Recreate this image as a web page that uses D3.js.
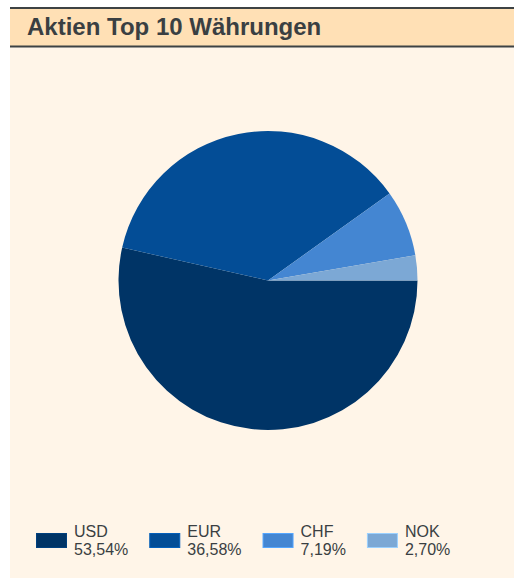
<!DOCTYPE html>
<html>
<head>
<meta charset="utf-8">
<script src="https://cdn.jsdelivr.net/npm/d3@7"></script>
<style>
  html, body { margin: 0; padding: 0; background: #ffffff; }
  svg { display: block; }
</style>
</head>
<body>
<div id="chart"></div>
<script>
var categories = ["USD", "EUR", "CHF", "NOK"];
var values     = [53.54, 36.58, 7.19, 2.70];
var labels     = ["53,54%", "36,58%", "7,19%", "2,70%"];
var colors     = ["#003466", "#034d96", "#4486d2", "#7ca8d5"];
var title      = "Aktien Top 10 Währungen";

var width  = 514;
var height = 579;

var svg = d3.select("#chart").append("svg")
  .attr("width", width)
  .attr("height", height);

// panel background
svg.append("rect")
  .attr("x", 10).attr("y", 8)
  .attr("width", width - 10).attr("height", 570)
  .attr("fill", "#fff5e8");

// header band
svg.append("rect")
  .attr("x", 10).attr("y", 8)
  .attr("width", width - 10).attr("height", 38)
  .attr("fill", "#ffe0b5");
svg.append("rect")
  .attr("x", 10).attr("y", 7)
  .attr("width", width - 10).attr("height", 2)
  .attr("fill", "#3d4244");
svg.append("rect")
  .attr("x", 10).attr("y", 45.5)
  .attr("width", width - 10).attr("height", 2)
  .attr("fill", "#3d4244");

svg.append("text")
  .attr("x", 27).attr("y", 35)
  .attr("font-family", "'Liberation Sans', Arial, sans-serif")
  .attr("font-weight", "bold")
  .attr("font-size", 24)
  .attr("fill", "#3a3f42")
  .text(title);

// pie
var cx = 268, cy = 280.5, radius = 149.5;

var pie = d3.pie()
  .sort(null)
  .startAngle(Math.PI / 2)
  .endAngle(Math.PI / 2 + 2 * Math.PI)
  .value(function (d) { return d; });

var arc = d3.arc()
  .innerRadius(0)
  .outerRadius(radius);

var g = svg.append("g")
  .attr("transform", "translate(" + cx + "," + cy + ")");

g.selectAll("path")
  .data(pie(values))
  .enter().append("path")
  .attr("d", arc)
  .attr("fill", function (d, i) { return colors[i]; });

// legend
var legend = svg.append("g");
var lx = 36;
categories.forEach(function (c, i) {
  var item = legend.append("g").attr("transform", "translate(" + lx + ",0)");
  item.append("rect")
    .attr("x", 0.5).attr("y", 533.5)
    .attr("width", 30).attr("height", 14)
    .attr("fill", colors[i])
    .attr("stroke", d3.color(colors[i]).brighter(0.6))
    .attr("stroke-width", 1);
  item.append("text")
    .attr("x", 38).attr("y", 537)
    .attr("font-family", "'Liberation Sans', Arial, sans-serif")
    .attr("font-size", 16)
    .attr("fill", "#3a3f42")
    .text(c);
  var t = item.append("text")
    .attr("x", 38).attr("y", 554.5)
    .attr("font-family", "'Liberation Sans', Arial, sans-serif")
    .attr("font-size", 16)
    .attr("fill", "#3a3f42")
    .text(labels[i]);
  var w = Math.max(t.node().getComputedTextLength(), item.select("text").node().getComputedTextLength());
  lx += 38 + w + 21;
});
</script>
</body>
</html>
